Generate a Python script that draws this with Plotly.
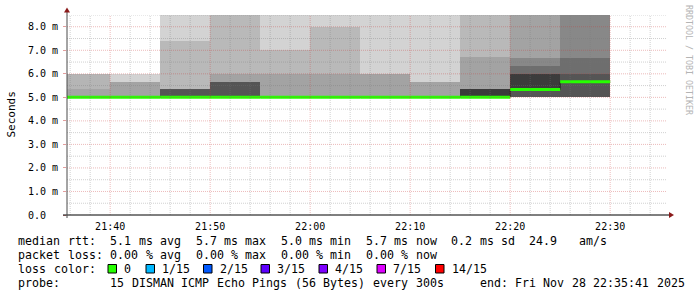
import re
import pandas as pd
import plotly.graph_objects as go

# ---------------- data ----------------
slot_start = pd.date_range("2025-11-28 21:35:00", periods=11, freq="5min")
step_ms = 300000

median_ms = [5.0, 5.0, 5.0, 5.0, 5.0, 5.0, 5.0, 5.0, 5.0, 5.33, 5.66]

# smoke band edges per 5-minute slot (ms)
smoke_edges = [
    [5.0, 5.35, 6.0],
    [5.0, 5.65, 6.0],
    [5.0, 5.35, 7.41, 8.5],
    [5.0, 5.65, 6.0, 8.5],
    [5.0, 6.0, 7.0, 8.5],
    [5.0, 6.0, 8.0, 8.5],
    [5.0, 6.0, 8.5],
    [5.0, 5.65, 8.5],
    [5.0, 5.35, 6.72, 8.5],
    [5.0, 5.33, 6.0, 6.33, 6.69, 8.5],
    [5.0, 6.0, 6.69, 8.5],
]
# grey level of each band (density of pings)
smoke_grey = [
    [165, 181],
    [163, 211],
    [85, 185, 211],
    [85, 163, 185],
    [163, 185, 211],
    [163, 185, 211],
    [163, 211],
    [163, 211],
    [58, 163, 185],
    [85, 60, 110, 136, 163],
    [85, 110, 136],
]

y_ticks = [0, 1, 2, 3, 4, 5, 6, 7, 8]
y_tick_text = ["0.0\u00a0\u00a0", "1.0 m", "2.0 m", "3.0 m", "4.0 m",
               "5.0 m", "6.0 m", "7.0 m", "8.0 m"]

loss_labels = ["0", "1/15", "2/15", "3/15", "4/15", "7/15", "14/15"]
loss_colors = ["#26ff00", "#00b8ff", "#0059ff", "#5e00ff", "#7e00ff", "#dd00ff", "#ff0000"]

stat_lines = [
    "median rtt:  5.1 ms avg  5.7 ms max  5.0 ms min  5.7 ms now  0.2 ms sd  24.9   am/s",
    "packet loss: 0.00 % avg  0.00 % max  0.00 % min  0.00 % now",
]
probe_line = "probe:       15 DISMAN ICMP Echo Pings (56 Bytes) every 300s     end: Fri Nov 28 22:35:41 2025"

x_start = pd.Timestamp("2025-11-28 21:35:41")
x_end = pd.Timestamp("2025-11-28 22:35:41")

# ---------------- geometry helpers (pixels -> paper) ----------------
L, R, T, B = 67, 667, 15, 215
W, H = 697, 297


def px(x):
    return (x - L) / (R - L)


def py(y):
    return (B - y) / (B - T)


MONO = "DejaVu Sans Mono"
LEG_SIZE = 11.6

fig = go.Figure()

# smoke bands
bx, bbase, bh, bcol = [], [], [], []
for t, edges, greys in zip(slot_start, smoke_edges, smoke_grey):
    for lo, hi, g in zip(edges[:-1], edges[1:], greys):
        bx.append(t)
        bbase.append(lo)
        bh.append(hi - lo)
        bcol.append(f"rgb({g},{g},{g})")
fig.add_trace(go.Bar(x=bx, y=bh, base=bbase, width=step_ms, offset=0,
                     marker=dict(color=bcol, line=dict(width=0)),
                     hoverinfo="skip", showlegend=False))

# dark median step line (visible only at step changes)
mx = list(slot_start) + [slot_start[-1] + pd.Timedelta(milliseconds=step_ms)]
my = median_ms + [median_ms[-1]]
fig.add_trace(go.Scatter(x=mx, y=my, mode="lines", line=dict(color="#202020", width=1, shape="hv"),
                         hoverinfo="skip", showlegend=False))

# green median segments
gx, gy = [], []
for t, m in zip(slot_start, median_ms):
    gx += [t, t + pd.Timedelta(milliseconds=step_ms), None]
    gy += [m, m, None]
fig.add_trace(go.Scatter(x=gx, y=gy, mode="lines", line=dict(color=loss_colors[0], width=3),
                         hoverinfo="skip", showlegend=False))

shapes = []
# grid (drawn above the smoke, like rrdtool)
minor_col = "rgba(120,120,120,0.35)"
major_col = "rgba(200,60,60,0.35)"
for t in pd.date_range("2025-11-28 21:36", "2025-11-28 22:34", freq="2min"):
    major = t.minute % 10 == 0
    shapes.append(dict(type="line", xref="x", yref="paper", x0=t, x1=t, y0=0, y1=1, layer="above",
                       line=dict(color=major_col if major else minor_col, width=1, dash="1px,1px")))
for v in [i * 0.5 for i in range(1, 18)]:
    major = float(v).is_integer()
    shapes.append(dict(type="line", xref="paper", yref="y", x0=0, x1=1, y0=v, y1=v, layer="above",
                       line=dict(color=major_col if major else minor_col, width=1, dash="1px,1px")))

# axes lines + arrows
shapes.append(dict(type="line", xref="paper", yref="paper", x0=px(63), x1=px(670), y0=0, y1=0,
                   layer="above", line=dict(color="#000000", width=1)))
shapes.append(dict(type="line", xref="paper", yref="paper", x0=0, x1=0, y0=py(218), y1=py(11),
                   layer="above", line=dict(color="#4a4a4a", width=1)))
arrow_col = "#8b1a1a"
shapes.append(dict(type="path", xref="paper", yref="paper", layer="above",
                   path=f"M {px(669)},{py(212)} L {px(674)},{py(215)} L {px(669)},{py(218)} Z",
                   fillcolor=arrow_col, line=dict(color=arrow_col, width=0)))
shapes.append(dict(type="path", xref="paper", yref="paper", layer="above",
                   path=f"M {px(64)},{py(12.5)} L {px(67)},{py(7.5)} L {px(70)},{py(12.5)} Z",
                   fillcolor=arrow_col, line=dict(color=arrow_col, width=0)))

annotations = []
CH = 7.1  # pixel width of one legend character column


def add_tokens(line, y):
    for m in re.finditer(r"\S+", line):
        annotations.append(dict(text=m.group(0), xref="paper", yref="paper",
                                x=px(16 + m.start() * CH), y=py(y), xanchor="left", yanchor="middle",
                                showarrow=False, font=dict(family=MONO, size=LEG_SIZE, color="#000000")))


add_tokens(stat_lines[0], 241)
add_tokens(stat_lines[1], 255)
add_tokens("loss color:", 269)
add_tokens(probe_line, 283)

# loss colour legend boxes
box_x = [108, 146, 203.5, 261, 319, 377, 435.5]
for bxp, lab, col in zip(box_x, loss_labels, loss_colors):
    shapes.append(dict(type="rect", xref="paper", yref="paper", x0=px(bxp), x1=px(bxp + 8.5),
                       y0=py(273), y1=py(264.5), fillcolor=col, line=dict(color="#000000", width=1)))
    annotations.append(dict(text=lab, xref="paper", yref="paper", x=px(bxp + 14), y=py(269),
                            xanchor="left", yanchor="middle", showarrow=False,
                            font=dict(family=MONO, size=LEG_SIZE, color="#000000")))

# y axis title
annotations.append(dict(text="Seconds", xref="paper", yref="paper", x=px(11), y=py(114.5),
                        textangle=-90, showarrow=False, xanchor="center", yanchor="middle",
                        font=dict(family=MONO, size=11, color="#000000")))
# watermark
annotations.append(dict(text="RRDTOOL / TOBI OETIKER", xref="paper", yref="paper", x=px(689), y=py(60),
                        textangle=90, showarrow=False, xanchor="center", yanchor="middle",
                        font=dict(family=MONO, size=8.3, color="#b4b4b4")))

fig.update_layout(
    width=W, height=H, autosize=False,
    margin=dict(l=L, r=W - R, t=T, b=H - B, pad=0),
    paper_bgcolor="#ffffff", plot_bgcolor="#ffffff",
    barmode="overlay", bargap=0, showlegend=False,
    shapes=shapes, annotations=annotations,
    xaxis=dict(type="date", range=[x_start, x_end], tickformat="%H:%M",
               tick0="2025-11-28 21:40", dtick=600000,
               showgrid=False, zeroline=False, showline=False,
               ticks="outside", ticklen=2, tickcolor="rgba(0,0,0,0)",
               tickfont=dict(family=MONO, size=10, color="#000000")),
    yaxis=dict(range=[0, 8.5], tickvals=y_ticks, ticktext=y_tick_text,
               showgrid=False, zeroline=False, showline=False,
               ticks="outside", ticklen=3, tickcolor="rgba(200,60,60,0.5)",
               ticklabelstandoff=3,
               tickfont=dict(family=MONO, size=10, color="#000000")),
)

fig.write_html("out.html")
